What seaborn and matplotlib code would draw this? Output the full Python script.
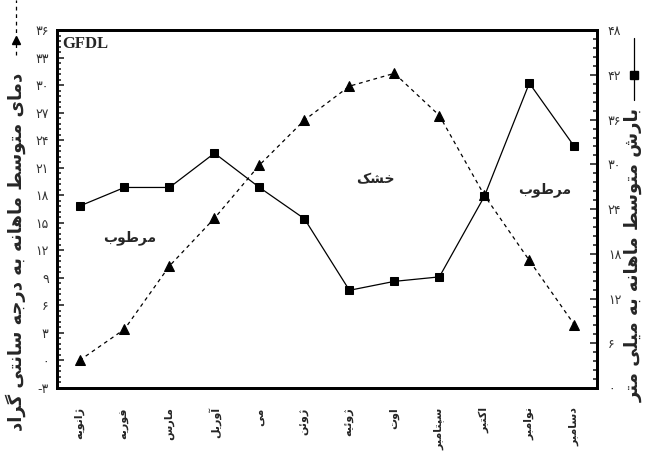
import numpy as np
import pandas as pd
import matplotlib
matplotlib.use('Agg')
import matplotlib.pyplot as plt
from matplotlib.lines import Line2D
from matplotlib.ticker import MultipleLocator
import seaborn as sns

months = ['ژانویه', 'فوریه', 'مارس', 'آوریل', 'می', 'ژوئن',
          'ژوئیه', 'اوت', 'سپتامبر', 'اکتبر', 'نوامبر', 'دسامبر']
# mean monthly temperature (C) - left axis
temp = [0.0, 3.4, 10.3, 15.5, 21.3, 26.2, 29.9, 31.3, 26.7, 18.0, 10.9, 3.9]
# mean monthly precipitation (mm) - right axis
precip = [24.4, 26.9, 26.9, 31.5, 26.9, 22.7, 13.1, 14.3, 14.9, 25.7, 40.9, 32.4]

temp_ticks = list(range(-3, 37, 3))
precip_ticks = list(range(0, 49, 6))

left_label = 'دمای متوسط ماهانه به درجه سانتی گراد'
right_label = 'بارش متوسط ماهانه به میلی متر'
wet = 'مرطوب'
dry = 'خشک'
model = 'GFDL'

# matplotlib has no arabic shaping, so pick presentation forms by hand
# (isolated, final, initial, medial); right-joining letters only have two
FORMS = {
    'ا': (0xFE8D, 0xFE8E), 'آ': (0xFE81, 0xFE82), 'د': (0xFEA9, 0xFEAA),
    'ر': (0xFEAD, 0xFEAE), 'ژ': (0xFB8A, 0xFB8B), 'و': (0xFEED, 0xFEEE),
    'ب': (0xFE8F, 0xFE90, 0xFE91, 0xFE92), 'ت': (0xFE95, 0xFE96, 0xFE97, 0xFE98),
    'ج': (0xFE9D, 0xFE9E, 0xFE9F, 0xFEA0), 'خ': (0xFEA5, 0xFEA6, 0xFEA7, 0xFEA8),
    'س': (0xFEB1, 0xFEB2, 0xFEB3, 0xFEB4), 'ش': (0xFEB5, 0xFEB6, 0xFEB7, 0xFEB8),
    'ط': (0xFEC1, 0xFEC2, 0xFEC3, 0xFEC4), 'ف': (0xFED1, 0xFED2, 0xFED3, 0xFED4),
    'ل': (0xFEDD, 0xFEDE, 0xFEDF, 0xFEE0), 'م': (0xFEE1, 0xFEE2, 0xFEE3, 0xFEE4),
    'ن': (0xFEE5, 0xFEE6, 0xFEE7, 0xFEE8), 'ه': (0xFEE9, 0xFEEA, 0xFEEB, 0xFEEC),
    'ئ': (0xFE89, 0xFE8A, 0xFE8B, 0xFE8C), 'پ': (0xFB56, 0xFB57, 0xFB58, 0xFB59),
    'ک': (0xFB8E, 0xFB8F, 0xFB90, 0xFB91), 'گ': (0xFB92, 0xFB93, 0xFB94, 0xFB95),
    'ی': (0xFBFC, 0xFBFD, 0xFBFE, 0xFBFF),
}


def shape(s):
    out = []
    for i, ch in enumerate(s):
        f = FORMS.get(ch)
        if f is None:
            out.append(ch)
            continue
        prev = FORMS.get(s[i - 1]) if i > 0 else None
        nxt = s[i + 1] if i + 1 < len(s) else None
        jp = prev is not None and len(prev) == 4
        jn = nxt in FORMS and len(f) == 4
        if jp and jn:
            c = f[3]
        elif jp:
            c = f[1]
        elif jn:
            c = f[2]
        else:
            c = f[0]
        out.append(chr(c))
    return ''.join(reversed(out))


fa_digits = str.maketrans('0123456789', '۰۱۲۳۴۵۶۷۸۹')


def fa(n):
    return str(n).translate(fa_digits)


sns.set_style('ticks')
plt.rcParams['font.family'] = ['DejaVu Sans']

df = pd.DataFrame({'month': range(12), 'temp': temp, 'precip': precip})

fig = plt.figure(figsize=(6.48, 4.58), dpi=100)
ax = fig.add_axes([0.088, 0.153, 0.833, 0.781])
ax2 = ax.twinx()

sns.lineplot(data=df, x='month', y='temp', ax=ax, color='black', lw=0.9,
             linestyle=(0, (3, 3)), marker='^', markersize=6.5, markeredgecolor='black')
sns.lineplot(data=df, x='month', y='precip', ax=ax2, color='black', lw=0.9,
             marker='s', markersize=5.5, markeredgecolor='black')

ax.set_xlim(-0.5, 11.5)
ax.set_ylim(-3, 36)
ax2.set_ylim(0, 48)
ax.set_xlabel('')
ax.set_ylabel('')
ax2.set_ylabel('')

ax.set_xticks(range(12))
ax.set_xticklabels([shape(m) for m in months], rotation=90, fontsize=8, fontweight='bold')
ax.tick_params(axis='x', length=0, pad=14)

ax.set_yticks(temp_ticks)
ax.set_yticklabels([fa(t) for t in temp_ticks], fontsize=9, color='#333333')
ax.yaxis.set_minor_locator(MultipleLocator(0.6))
ax.tick_params(axis='y', direction='in', length=5, width=1.2, pad=6)
ax.tick_params(axis='y', which='minor', direction='in', length=3, width=1.2)

ax2.set_yticks(precip_ticks)
ax2.set_yticklabels([fa(p) for p in precip_ticks], fontsize=9, color='#333333')
ax2.yaxis.set_minor_locator(MultipleLocator(1.2))
ax2.tick_params(axis='y', direction='in', length=5, width=1.2, pad=8)
ax2.tick_params(axis='y', which='minor', direction='in', length=3, width=1.2)

for a in (ax, ax2):
    for sp in a.spines.values():
        sp.set_linewidth(2)
        sp.set_color('black')

ax.text(0.01, 0.985, model, transform=ax.transAxes, ha='left', va='top',
        fontsize=12, fontweight='bold', family='Liberation Serif')
ax.text(1.12, 13.4, shape(wet), ha='center', va='center', fontsize=10, fontweight='bold')
ax.text(6.57, 19.7, shape(dry), ha='center', va='center', fontsize=10, fontweight='bold')
ax.text(10.34, 18.6, shape(wet), ha='center', va='center', fontsize=10, fontweight='bold')

# axis titles with their little legend keys
fig.text(0.024, 0.45, shape(left_label), rotation=90, ha='center', va='center',
         fontsize=13, fontweight='bold')
fig.add_artist(Line2D([0.024, 0.024], [0.88, 1.0], transform=fig.transFigure,
                      color='black', lw=0.9, linestyle=(0, (3, 3))))
fig.add_artist(Line2D([0.024], [0.913], transform=fig.transFigure, color='black',
                      marker='^', markersize=6, linestyle='none'))

fig.text(0.978, 0.443, shape(right_label), rotation=90, ha='center', va='center',
         fontsize=13, fontweight='bold')
fig.add_artist(Line2D([0.978, 0.978], [0.782, 0.917], transform=fig.transFigure,
                      color='black', lw=0.9))
fig.add_artist(Line2D([0.978], [0.836], transform=fig.transFigure, color='black',
                      marker='s', markersize=6, linestyle='none'))

fig.savefig('out.png', dpi=100)
